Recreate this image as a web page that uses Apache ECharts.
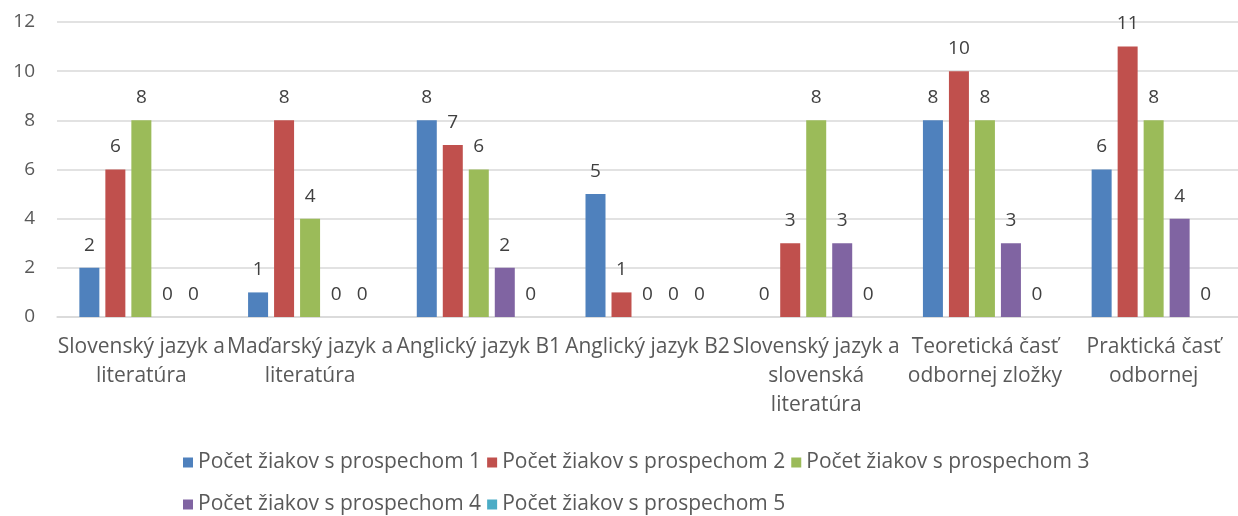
<!DOCTYPE html>
<html>
<head>
<meta charset="utf-8">
<script src="https://cdn.jsdelivr.net/npm/echarts@6/dist/echarts.min.js"></script>
<style>
  html, body { margin: 0; padding: 0; background: #fff; }
  #chart { width: 1238px; height: 516px; }
</style>
</head>
<body>
<div id="chart"></div>
<script>
const categories = [
  "Slovenský jazyk a\nliteratúra",
  "Maďarský jazyk a\nliteratúra",
  "Anglický jazyk B1",
  "Anglický jazyk B2",
  "Slovenský jazyk a\nslovenská\nliteratúra",
  "Teoretická časť\nodbornej zložky",
  "Praktická časť\nodbornej"
];
const seriesNames = [
  "Počet žiakov s prospechom 1",
  "Počet žiakov s prospechom 2",
  "Počet žiakov s prospechom 3",
  "Počet žiakov s prospechom 4",
  "Počet žiakov s prospechom 5"
];
const grade1 = [2, 1, 8, 5, 0, 8, 6];
const grade2 = [6, 8, 7, 1, 3, 10, 11];
const grade3 = [8, 4, 6, 0, 8, 8, 8];
const grade4 = [0, 0, 2, 0, 3, 3, 4];
const grade5 = [0, 0, 0, 0, 0, 0, 0];
const colors = ["#4F81BD", "#C0504D", "#9BBB59", "#8064A2", "#4BACC6"];

const font = "'Open Sans', sans-serif";
const chart = echarts.init(document.getElementById("chart"));

const values = [grade1, grade2, grade3, grade4, grade5];
const series = values.map((vals, i) => ({
  name: seriesNames[i],
  type: "bar",
  data: vals,
  barWidth: 20,
  barGap: "30%",
  itemStyle: { color: colors[i] },
  label: {
    show: true,
    position: "top",
    distance: 13,
    color: "#404040",
    fontSize: 19,
    fontFamily: font
  }
}));

const legendText = { color: "#595959", fontSize: 21, fontFamily: font };

chart.setOption({
  animation: false,
  color: colors,
  grid: { left: 57, right: 0, top: 22, bottom: 199 },
  legend: [
    {
      data: seriesNames.slice(0, 3),
      left: 178,
      top: 447,
      icon: "rect",
      itemWidth: 10,
      itemHeight: 10,
      itemGap: 6,
      textStyle: legendText
    },
    {
      data: seriesNames.slice(3),
      left: 178,
      top: 489,
      icon: "rect",
      itemWidth: 10,
      itemHeight: 10,
      itemGap: 6,
      textStyle: legendText
    }
  ],
  xAxis: {
    type: "category",
    data: categories,
    axisLine: { lineStyle: { color: "#D9D9D9", width: 1.5 } },
    axisTick: { show: false },
    axisLabel: {
      interval: 0,
      margin: 16,
      color: "#595959",
      fontSize: 21,
      lineHeight: 29,
      fontFamily: font,
      verticalAlign: "top"
    }
  },
  yAxis: {
    type: "value",
    min: 0,
    max: 12,
    interval: 2,
    axisLine: { show: false },
    axisTick: { show: false },
    splitLine: { lineStyle: { color: "#D9D9D9", width: 1.5 } },
    axisLabel: {
      margin: 22,
      color: "#595959",
      fontSize: 19,
      fontFamily: font
    }
  },
  series: series
});
</script>
</body>
</html>
